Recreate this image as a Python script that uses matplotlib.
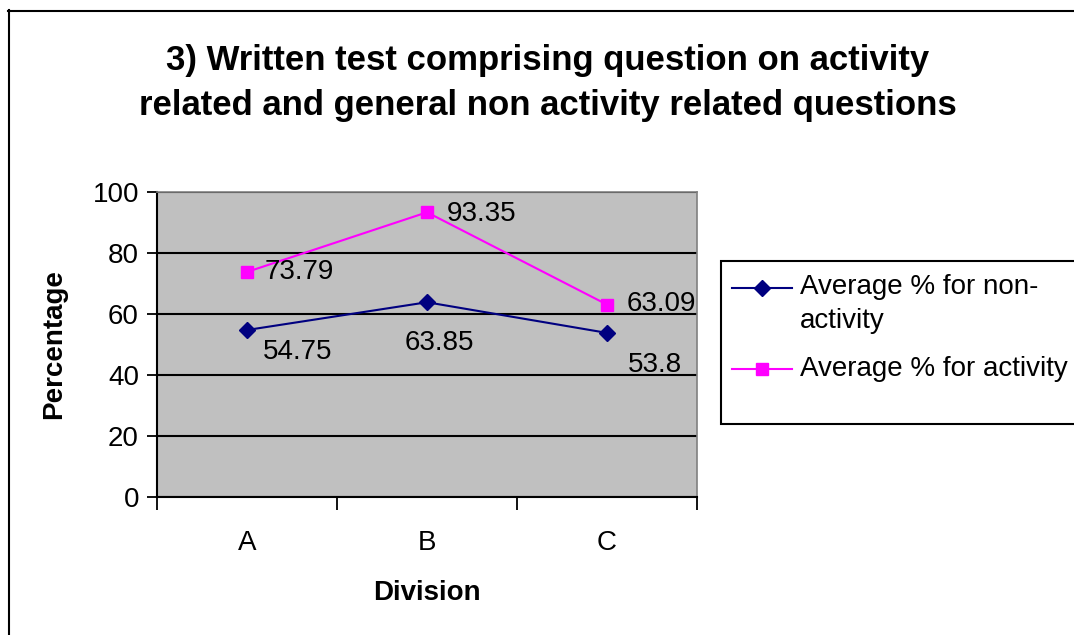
import matplotlib
matplotlib.use('Agg')
import matplotlib.pyplot as plt
from matplotlib.lines import Line2D
from matplotlib.patches import Rectangle

plt.rcParams['font.family'] = ['Liberation Sans', 'DejaVu Sans']

divisions = ['A', 'B', 'C']
non_activity = [54.75, 63.85, 53.8]
activity = [73.79, 93.35, 63.09]
y_ticks = [0, 20, 40, 60, 80, 100]
series_names = ['Average % for non-\nactivity', 'Average % for activity']

title = '3) Written test comprising question on activity\nrelated and general non activity related questions'

W, H = 1074, 635
fig = plt.figure(figsize=(W / 100, H / 100), dpi=100)


def fx(px):
    return px / W


def fy(py):
    return 1 - py / H


# outer chart border (left and top visible, rest cut off)
fig.add_artist(Line2D([fx(8.5), fx(8.5)], [0, fy(10)], color='black', lw=1.5,
                      transform=fig.transFigure))
fig.add_artist(Line2D([fx(8), 1], [fy(10.5), fy(10.5)], color='black', lw=1.5,
                      transform=fig.transFigure))

ax = fig.add_axes([fx(157), fy(497), fx(697) - fx(157), fy(192) - fy(497)])
ax.set_facecolor('#C0C0C0')

x = list(range(len(divisions)))
l1, = ax.plot(x, non_activity, color='#000080', lw=1.5, marker='D', markersize=8.5,
              zorder=3)
l2, = ax.plot(x, activity, color='#FF00FF', lw=1.5, marker='s', markersize=9,
              zorder=3)

# data labels
na_offsets = [(16, -22), (-22, -41), (21, -32)]
a_offsets = [(18, 0), (20, -2), (20, 1)]
for i, v in enumerate(non_activity):
    ax.annotate(f'{v:g}', (x[i], v), xytext=na_offsets[i], textcoords='offset pixels',
                ha='left', va='center', fontsize=20, zorder=4)
for i, v in enumerate(activity):
    ax.annotate(f'{v:g}', (x[i], v), xytext=a_offsets[i], textcoords='offset pixels',
                ha='left', va='center', fontsize=20, zorder=4)

ax.set_xlim(-0.5, 2.5)
ax.set_ylim(0, 100)
ax.set_yticks(y_ticks)
ax.set_yticklabels([str(t) for t in y_ticks], fontsize=20)
ax.yaxis.grid(True, color='black', lw=1.5)
ax.set_axisbelow(True)

ax.set_xticks([-0.5, 0.5, 1.5, 2.5])
ax.set_xticklabels([])
ax.set_xticks(x, minor=True)
ax.set_xticklabels(divisions, minor=True, fontsize=20)
ax.tick_params(axis='x', which='minor', length=0, pad=24)
ax.tick_params(axis='x', which='major', length=9, width=1.3, color='black')
ax.tick_params(axis='y', length=7, width=1.3, pad=6)

for side in ['left', 'bottom']:
    ax.spines[side].set_color('black')
    ax.spines[side].set_linewidth(1.5)
for side in ['top', 'right']:
    ax.spines[side].set_color('#808080')
    ax.spines[side].set_linewidth(1.2)

ax.set_xlabel('Division', fontsize=20, fontweight='bold', labelpad=17)
ax.set_ylabel('Percentage', fontsize=20, fontweight='bold', labelpad=18)

fig.text(fx(548), fy(83), title, ha='center', va='center', fontsize=25,
         fontweight='bold', linespacing=1.45)

# legend box, drawn like the spreadsheet one (handle next to first text line)
fig.add_artist(Rectangle((fx(721), fy(424)), fx(1080) - fx(721), fy(261) - fy(424),
                         transform=fig.transFigure, facecolor='white',
                         edgecolor='black', lw=1.5, zorder=0))
for line, name, ypx in [(l1, series_names[0], 288), (l2, series_names[1], 369)]:
    fig.add_artist(Line2D([fx(732), fx(792)], [fy(ypx), fy(ypx)],
                          color=line.get_color(), lw=1.5, transform=fig.transFigure))
    fig.add_artist(Line2D([fx(762)], [fy(ypx)], color=line.get_color(),
                          marker=line.get_marker(), markersize=line.get_markersize(),
                          transform=fig.transFigure))
    if '\n' in name:
        fig.text(fx(800), fy(ypx - 14), name, ha='left', va='top',
                 fontsize=20, linespacing=1.4)
    else:
        fig.text(fx(800), fy(ypx), name, ha='left', va='center', fontsize=20)

fig.savefig('out.png', dpi=100)
